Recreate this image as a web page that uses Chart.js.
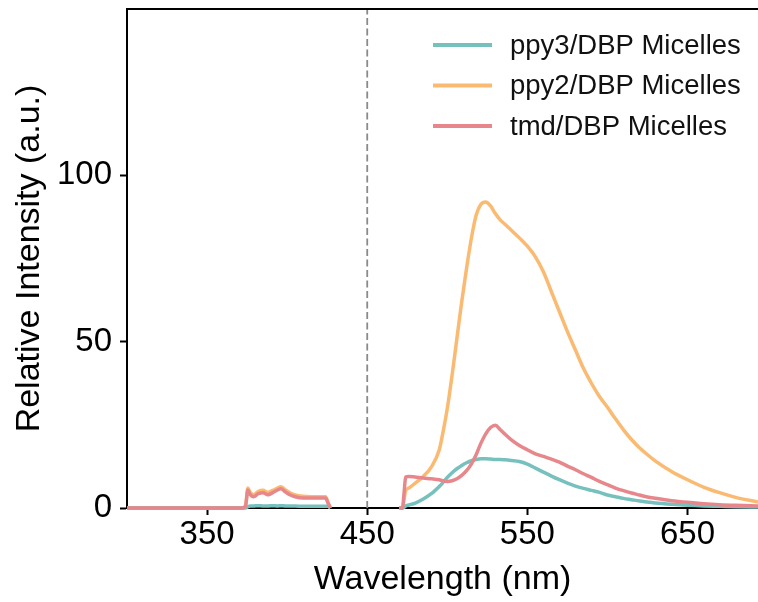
<!DOCTYPE html>
<html>
<head>
<meta charset="utf-8">
<script src="https://cdn.jsdelivr.net/npm/chart.js@4/dist/chart.umd.min.js"></script>
<style>
  html, body { margin: 0; padding: 0; background: #fff; }
  #wrap { width: 758px; height: 602px; }
</style>
</head>
<body>
<div id="wrap"><canvas id="myChart" width="758" height="602"></canvas></div>
<script>
// wavelength grid (nm), null values break the line
const wavelength = [300, 372, 374, 375.5, 377, 379, 382, 385, 388, 391, 394, 396, 399, 402, 405, 410, 415, 420, 424, 425.5, 427, 448,
  470, 472, 473, 474, 476, 480, 485, 490, 495, 497, 500, 503, 506, 509, 512, 515, 518, 521, 524, 527, 530, 533, 536, 540,
  545, 550, 555, 560, 565, 570, 575, 580, 585, 590, 595, 600, 605, 610, 615, 620, 625, 630, 640, 650, 660, 670, 680, 694];

const ppy3 = [0, 0, 0, 0.4, 0.6, 0.6, 0.7, 0.6, 0.6, 0.7, 0.6, 0.7, 0.6, 0.6, 0.6, 0.5, 0.5, 0.5, 0.5, 0.5, 0, null,
  0, 0, 0.2, 0.6, 0.9, 1.5, 2.7, 4.3, 6.5, 7.5, 9.2, 10.6, 11.8, 12.8, 13.6, 14.2, 14.6, 14.8, 14.8, 14.7, 14.6, 14.6, 14.5, 14.3,
  14.0, 13.2, 12.0, 10.8, 9.6, 8.5, 7.5, 6.6, 5.9, 5.3, 4.7, 3.9, 3.4, 2.9, 2.5, 2.1, 1.8, 1.5, 1.1, 0.8, 0.6, 0.5, 0.4, 0.3];

const ppy2 = [0, 0, 0.8, 6.0, 4.6, 4.0, 5.0, 5.3, 4.7, 5.3, 6.0, 6.4, 5.4, 4.5, 3.9, 3.5, 3.4, 3.4, 3.4, 1.7, 0, null,
  0, 0, 2.5, 5.2, 6.0, 7.5, 9.5, 12.3, 17.5, 22, 30, 40, 51, 62, 72, 81, 88, 91.3, 92, 90.8, 88.5, 86.6, 85.3, 83.5,
  81.2, 78.7, 75.5, 71, 65, 59, 53, 47.5, 42, 37.5, 33.5, 30.3, 26.8, 23.5, 20.6, 18.1, 16, 14.1, 11, 8.5, 6.3, 4.6, 3.2, 1.8];

const tmd = [0, 0, 0.6, 5.4, 4.0, 3.4, 4.3, 4.6, 4.0, 4.6, 5.4, 5.8, 4.8, 3.9, 3.4, 3.0, 3.0, 3.0, 3.0, 1.5, 0, null,
  0, 0, 4.5, 9.3, 9.5, 9.3, 9.0, 8.8, 8.5, 8.2, 8.0, 8.2, 8.8, 9.8, 11.2, 13.2, 16, 19.5, 22.3, 24.2, 24.9, 23.6, 22.2, 20.5,
  18.8, 17.5, 16.3, 15.5, 14.7, 13.8, 12.6, 11.5, 10.3, 9.2, 8.0, 7.0, 6.0, 5.2, 4.5, 3.9, 3.3, 2.9, 2.2, 1.7, 1.3, 1.0, 0.8, 0.6];

const seriesLabels = ['ppy3/DBP Micelles', 'ppy2/DBP Micelles', 'tmd/DBP Micelles'];
const seriesColors = ['#76c1be', '#fbba72', '#e8878b'];
const xTicks = [350, 450, 550, 650];
const yTicks = [0, 50, 100];
const excitation = 450;

const FONT = "'Liberation Sans', Arial, sans-serif";

function toPoints(ys) {
  return wavelength.map((x, i) => ({ x: x, y: ys[i] }));
}

// top frame line + legend drawn on canvas
const extras = {
  id: 'extras',
  afterDraw(chart) {
    const ctx = chart.ctx;
    const area = chart.chartArea;
    ctx.save();
    ctx.strokeStyle = '#000';
    ctx.lineWidth = 2;
    ctx.beginPath();
    ctx.moveTo(area.left - 1, area.top);
    ctx.lineTo(chart.width, area.top);
    ctx.stroke();

    ctx.font = '27.5px ' + FONT;
    ctx.textBaseline = 'middle';
    ctx.textAlign = 'left';
    ctx.lineCap = 'butt';
    seriesLabels.forEach((lab, i) => {
      const y = 45 + i * 40.5;
      ctx.strokeStyle = seriesColors[i];
      ctx.lineWidth = 4;
      ctx.beginPath();
      ctx.moveTo(433, y);
      ctx.lineTo(492, y);
      ctx.stroke();
      ctx.fillStyle = '#111';
      ctx.fillText(lab, 510, y + 1);
    });
    ctx.restore();
  }
};

const seriesData = [ppy3, ppy2, tmd];
const drawOrder = [1, 2, 0];

const datasets = seriesData.map((ys, i) => ({
  label: seriesLabels[i],
  data: toPoints(ys),
  borderColor: seriesColors[i],
  borderWidth: 3.5,
  pointRadius: 0,
  cubicInterpolationMode: 'monotone',
  spanGaps: false,
  clip: false,
  order: drawOrder[i]
}));

datasets.push({
  label: 'excitation',
  data: [{ x: excitation, y: 0 }, { x: excitation, y: 150 }],
  borderColor: '#8a8a8a',
  borderWidth: 1.8,
  borderDash: [7, 3.5],
  pointRadius: 0,
  order: 3
});

const ctx = document.getElementById('myChart').getContext('2d');
const myChart = new Chart(ctx, {
  type: 'line',
  data: { datasets: datasets },
  options: {
    responsive: false,
    animation: false,
    layout: { padding: { top: 9, right: 0, left: 0, bottom: 0 } },
    plugins: {
      legend: { display: false },
      tooltip: { enabled: false }
    },
    scales: {
      x: {
        type: 'linear',
        min: 300,
        max: 694,
        afterBuildTicks: scale => { scale.ticks = xTicks.map(v => ({ value: v })); },
        afterFit: scale => { scale.height = 94; scale.paddingLeft = 0; scale.paddingRight = 0; },
        grid: { drawOnChartArea: false, drawTicks: true, tickLength: 7, tickWidth: 2, tickColor: '#000' },
        border: { display: true, color: '#000', width: 2 },
        ticks: { color: '#000', padding: 0, maxRotation: 0, font: { family: FONT, size: 33 } },
        title: { display: true, text: 'Wavelength (nm)', color: '#000', padding: { top: 0, bottom: 2 }, font: { family: FONT, size: 34 } }
      },
      y: {
        type: 'linear',
        min: 0,
        max: 150,
        afterBuildTicks: scale => { scale.ticks = yTicks.map(v => ({ value: v })); },
        afterFit: scale => { scale.width = 127; scale.paddingTop = 0; scale.paddingBottom = 0; },
        grid: { drawOnChartArea: false, drawTicks: true, tickLength: 7, tickWidth: 2, tickColor: '#000' },
        border: { display: true, color: '#000', width: 2 },
        ticks: { color: '#000', padding: 8, font: { family: FONT, size: 33 } },
        title: { display: true, text: 'Relative Intensity (a.u.)', color: '#000', padding: { top: 9, bottom: 0 }, font: { family: FONT, size: 34 } }
      }
    }
  },
  plugins: [extras]
});
</script>
</body>
</html>
